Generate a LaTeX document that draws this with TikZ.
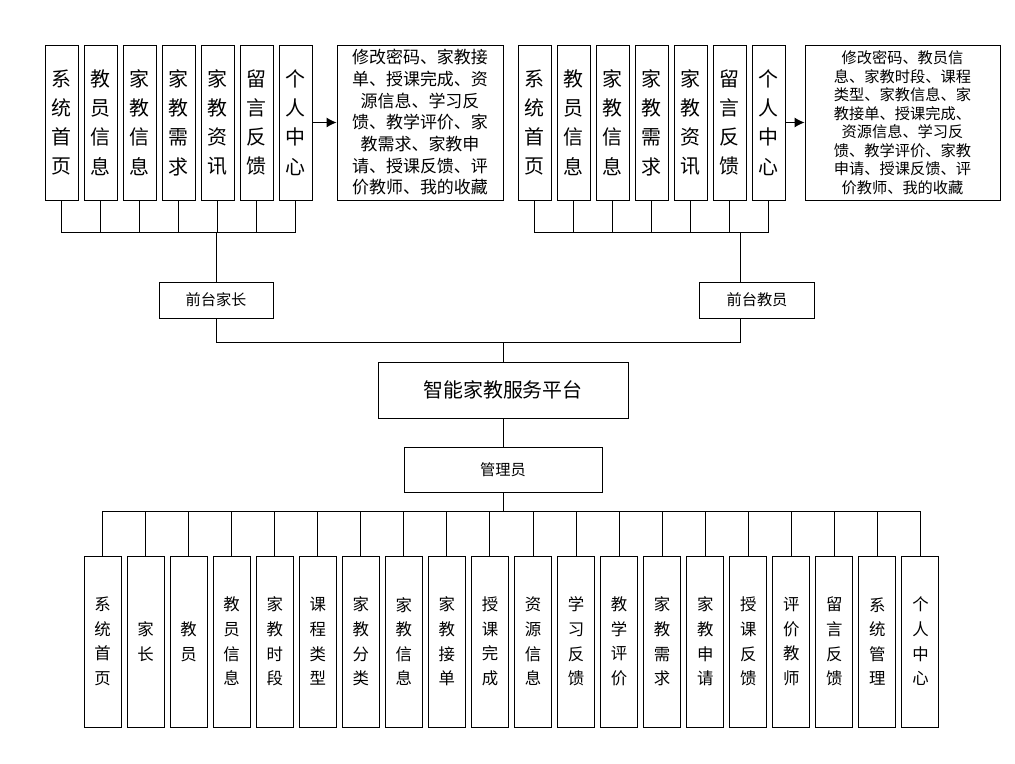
\documentclass[tikz,border=0pt]{standalone}
\usepackage{fontspec}
\setmainfont{Noto Sans CJK SC}
\usetikzlibrary{arrows.meta}
\begin{document}
\begin{tikzpicture}[x=0.03cm,y=-0.03cm,
 mod/.style={draw,thick,fill=white,minimum width=0.99cm,minimum height=4.65cm,inner sep=0pt,align=center,font=\fontsize{17}{25}\selectfont},
 sub/.style={draw,thick,fill=white,minimum width=1.11cm,minimum height=5.13cm,inner sep=0pt,align=center,font=\fontsize{14}{21}\selectfont},
 role/.style={draw,thick,fill=white,inner sep=0pt,font=\fontsize{13}{15}\selectfont},
 arr/.style={-{Latex[length=3mm,width=3mm]},thick}]
 \useasboundingbox (0,0) rectangle (1015,764);

 % front parent
 \foreach \t [count=\i] in {系\\统\\首\\页,教\\员\\信\\息,家\\教\\信\\息,家\\教\\需\\求,家\\教\\资\\讯,留\\言\\反\\馈,个\\人\\中\\心}
  \node[mod] (p\i) at ({61.5+39*(\i-1)},122.5) {\t};
 \node[draw,thick,minimum width=4.98cm,minimum height=4.65cm,inner sep=0pt,align=center,font=\fontsize{14.5}{18.5}\selectfont] (pt) at (420,122.5)
  {修改密码、家教接\\单、授课完成、资\\源信息、学习反\\馈、教学评价、家\\教需求、家教申\\请、授课反馈、评\\价教师、我的收藏};
 \draw[arr] (p7) -- (pt);
 \node[role,minimum width=3.42cm,minimum height=1.08cm] (pa) at (216,300) {前台家长};
 \coordinate (pj) at (216,232);
 \foreach \i in {1,...,7} \draw[thick] (p\i.south) |- (pj);
 \draw[thick] (pj) -- (pa);

 % front teacher
 \foreach \t [count=\i] in {系\\统\\首\\页,教\\员\\信\\息,家\\教\\信\\息,家\\教\\需\\求,家\\教\\资\\讯,留\\言\\反\\馈,个\\人\\中\\心}
  \node[mod] (q\i) at ({534.5+39*(\i-1)},122.5) {\t};
 \node[draw,thick,minimum width=5.85cm,minimum height=4.65cm,inner sep=0pt,align=center,font=\fontsize{13}{15.8}\selectfont] (qt) at (902.5,122.5)
  {修改密码、教员信\\息、家教时段、课程\\类型、家教信息、家\\教接单、授课完成、\\资源信息、学习反\\馈、教学评价、家教\\申请、授课反馈、评\\价教师、我的收藏};
 \draw[arr] (q7) -- (qt);
 \node[role,minimum width=3.45cm,minimum height=1.08cm] (ta) at (757,300) {前台教员};
 \coordinate (qj) at (740,232);
 \foreach \i in {1,...,7} \draw[thick] (q\i.south) |- (qj);
 \draw[thick] (qj) -- (740,282);

 % platform
 \node[role,minimum width=7.5cm,minimum height=1.68cm,font=\fontsize{17}{20}\selectfont] (sys) at (503,390) {智能家教服务平台};
 \node[role,minimum width=5.94cm,minimum height=1.35cm] (adm) at (503,469.5) {管理员};
 \draw[thick] (pa.south) |- (503,342) -| (sys.north);
 \draw[thick] (ta.south -| 740,0) |- (503,342);
 \draw[thick] (sys) -- (adm);

 % admin
 \coordinate (aj) at (503,511);
 \foreach \t [count=\i] in {系\\统\\首\\页,家\\长,教\\员,教\\员\\信\\息,家\\教\\时\\段,课\\程\\类\\型,家\\教\\分\\类,家\\教\\信\\息,家\\教\\接\\单,授\\课\\完\\成,资\\源\\信\\息,学\\习\\反\\馈,教\\学\\评\\价,家\\教\\需\\求,家\\教\\申\\请,授\\课\\反\\馈,评\\价\\教\\师,留\\言\\反\\馈,系\\统\\管\\理,个\\人\\中\\心}
 {
  \node[sub] (a\i) at ({102.5+43.05*(\i-1)},641.5) {\t};
  \draw[thick] (a\i.north) |- (aj);
 }
 \draw[thick] (adm) -- (aj);
\end{tikzpicture}
\end{document}
